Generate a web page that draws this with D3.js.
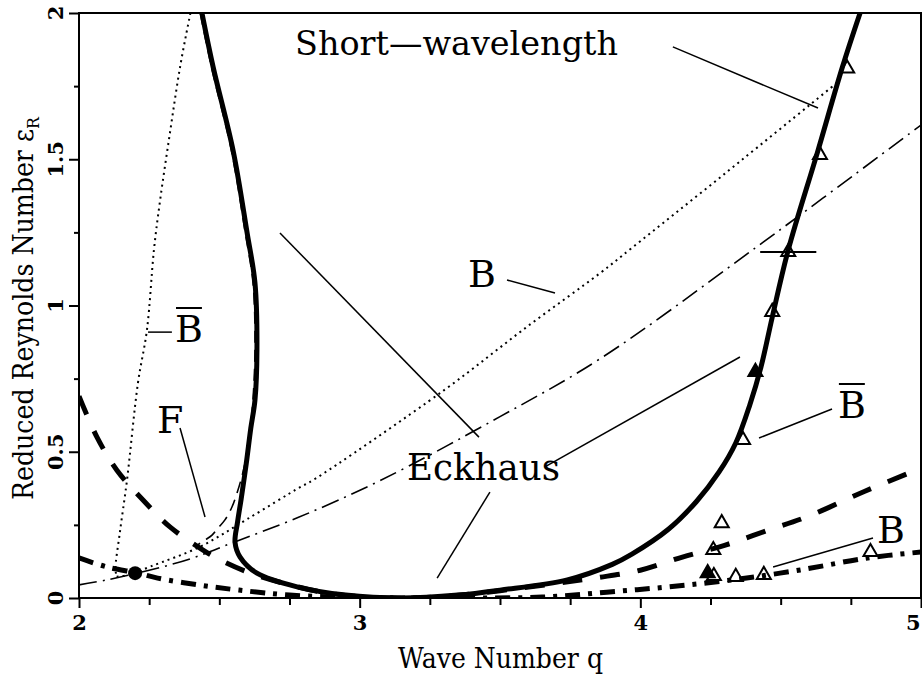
<!DOCTYPE html>
<html>
<head>
<meta charset="utf-8">
<script src="https://cdn.jsdelivr.net/npm/d3@7"></script>
<style>
  body { margin: 0; background: #fff; }
  svg { display: block; }
  text { font-family: "DejaVu Serif", "Liberation Serif", serif; fill: #000; }
</style>
</head>
<body>
<svg id="chart" width="922" height="677"></svg>
<script>
// ---- axis ticks ----
const xMajorTicks = [2, 3, 4, 5];
const xMinorTicks = [2.25, 2.5, 2.75, 3.25, 3.5, 3.75, 4.25, 4.5, 4.75];
const yMajorTicks = [0, 0.5, 1, 1.5, 2];
const yMinorTicks = [0.25, 0.75, 1.25, 1.75];
const xTickLabels = ["2", "3", "4", "5"];
const yTickLabels = ["0", "0.5", "1", "1.5", "2"];

// ---- curves: [wave number q, reduced Reynolds number eps_R] ----
// neutral stability curve (thick solid)
const neutralCurve = [
  [2.438, 2.0], [2.478, 1.815], [2.549, 1.53], [2.599, 1.248], [2.627, 1.077],
  [2.634, 0.848], [2.627, 0.677], [2.612, 0.58], [2.596, 0.46], [2.578, 0.34],
  [2.565, 0.26], [2.556, 0.19], [2.574, 0.14], [2.634, 0.085], [2.777, 0.038],
  [2.95, 0.01], [3.15, 0.0], [3.35, 0.01], [3.5, 0.027], [3.74, 0.062],
  [3.9, 0.115], [3.97, 0.15], [4.1, 0.235], [4.2, 0.33], [4.28, 0.43],
  [4.34, 0.53], [4.39, 0.66], [4.43, 0.79], [4.47, 0.96], [4.527, 1.19],
  [4.63, 1.52], [4.72, 1.815], [4.783, 2.0]
];
// thin dashed curve along the left branch (F)
const fCurve = [
  [2.432, 2.0], [2.472, 1.815], [2.543, 1.53], [2.592, 1.25], [2.62, 1.077],
  [2.627, 0.85], [2.62, 0.68], [2.609, 0.564], [2.599, 0.496], [2.58, 0.414],
  [2.563, 0.359], [2.545, 0.311], [2.52, 0.267], [2.495, 0.239], [2.474, 0.215],
  [2.449, 0.198], [2.42, 0.18]
];
// steep dotted curve (left B-bar)
const bBarDotted = [
  [2.397, 2.0], [2.36, 1.815], [2.324, 1.59], [2.289, 1.36], [2.267, 1.19],
  [2.242, 0.916], [2.21, 0.735], [2.171, 0.403], [2.145, 0.22], [2.13, 0.1],
  [2.134, 0.073]
];
// rising dotted curve (B)
const bDotted = [
  [2.134, 0.073], [2.18, 0.079], [2.253, 0.107], [2.431, 0.175], [2.6, 0.27],
  [2.788, 0.379], [2.834, 0.403], [3.3, 0.71], [3.6, 0.93], [3.857, 1.111],
  [3.97, 1.197], [4.3, 1.45], [4.704, 1.764]
];
// thin dash-dot curve
const thinDashDot = [
  [2.0, 0.045], [2.1, 0.062], [2.25, 0.095], [2.4, 0.135], [2.55, 0.19],
  [2.78, 0.275], [3.07, 0.40], [3.5, 0.62], [3.86, 0.82], [4.4, 1.19], [5.0, 1.617]
];
// thick dashed curve
const boldDashed = [
  [2.0, 0.69], [2.064, 0.55], [2.135, 0.437], [2.228, 0.335], [2.324, 0.243],
  [2.442, 0.164], [2.503, 0.13], [2.6, 0.089], [2.75, 0.045], [2.9, 0.015],
  [3.1, 0.0], [3.3, 0.005], [3.5, 0.025], [3.7, 0.05], [3.85, 0.07],
  [4.0, 0.095], [4.15, 0.14], [4.3, 0.18], [4.45, 0.23], [4.6, 0.28],
  [4.8, 0.365], [5.0, 0.444]
];
// thick dash-dot curve
const boldDashDot = [
  [2.0, 0.137], [2.1, 0.106], [2.21, 0.085], [2.28, 0.068], [2.43, 0.044],
  [2.57, 0.027], [2.75, 0.01], [3.0, 0.002], [3.2, 0.0], [3.4, 0.0],
  [3.65, 0.003], [3.88, 0.02], [4.1, 0.038], [4.33, 0.062], [4.57, 0.096],
  [4.81, 0.137], [5.0, 0.157]
];
// measured points (triangles)
const triQ = [4.366, 4.41, 4.47, 4.527, 4.64, 4.737, 4.29, 4.26, 4.24, 4.262, 4.34, 4.44, 4.82];
const triEps = [0.54, 0.773, 0.978, 1.183, 1.515, 1.81, 0.256, 0.164, 0.085, 0.075, 0.072, 0.079, 0.157];
const triFilled = [false, true, false, false, false, false, false, false, true, false, false, false, false];
// horizontal error bar on one measured point
const errQ = [4.527], errEps = [1.183], errHalfWidth = [0.1];
// codimension point (filled circle)
const dotQ = [2.2], dotEps = [0.085];

// ---- layout ----
const svg = d3.select("#chart");
const W = 922, H = 677;
const M = { left: 79, right: 1, top: 13, bottom: 79 };
const x = d3.scaleLinear().domain([2, 5]).range([M.left, W - M.right]);
const y = d3.scaleLinear().domain([0, 2]).range([H - M.bottom, M.top]);

svg.append("rect").attr("width", W).attr("height", H).attr("fill", "#fff");

svg.append("defs").append("clipPath").attr("id", "plotClip")
  .append("rect")
  .attr("x", x(2)).attr("y", y(2))
  .attr("width", x(5) - x(2)).attr("height", y(0) - y(2));

const plot = svg.append("g").attr("clip-path", "url(#plotClip)");
const line = d3.line()
  .x(d => x(d[0])).y(d => y(d[1]))
  .curve(d3.curveCatmullRom.alpha(0.5));

function curve(data, width, dash) {
  plot.append("path")
    .datum(data)
    .attr("d", line)
    .attr("fill", "none")
    .attr("stroke", "#000")
    .attr("stroke-width", width)
    .attr("stroke-linejoin", "round")
    .attr("stroke-dasharray", dash);
}

curve(thinDashDot, 1.6, "18,6,2,6");
curve(bBarDotted, 2, "2,4");
curve(bDotted, 2, "2,4");
curve(fCurve, 1.6, "12,7");
curve(boldDashed, 5, "20,18");
curve(boldDashDot, 5, "15,8,4,8");
curve(neutralCurve, 5, null);

// error bar
plot.selectAll(".err").data(errQ).enter().append("line")
  .attr("x1", (d, i) => x(d - errHalfWidth[i]))
  .attr("x2", (d, i) => x(d + errHalfWidth[i]))
  .attr("y1", (d, i) => y(errEps[i]))
  .attr("y2", (d, i) => y(errEps[i]))
  .attr("stroke", "#000").attr("stroke-width", 2);

// triangles
const tri = d3.symbol().type(d3.symbolTriangle).size(85);
plot.selectAll(".tri").data(triQ).enter().append("path")
  .attr("d", tri)
  .attr("transform", (d, i) => `translate(${x(d)},${y(triEps[i])})`)
  .attr("fill", (d, i) => triFilled[i] ? "#000" : "none")
  .attr("stroke", "#000").attr("stroke-width", 2);

// filled circle
plot.selectAll(".dot").data(dotQ).enter().append("circle")
  .attr("cx", d => x(d)).attr("cy", (d, i) => y(dotEps[i]))
  .attr("r", 7).attr("fill", "#000");

// ---- annotations: pointer lines (in data units) ----
const pointers = [
  [[4.116, 1.884], [4.633, 1.675]],   // Short-wavelength
  [[2.716, 1.248], [3.425, 0.550]],
  [[3.525, 1.087], [3.696, 1.043]],   // B (middle)
  [[3.660, 0.448], [4.355, 0.824]],   // Eckhaus
  [[3.276, 0.068], [3.464, 0.362]],   // Eckhaus
  [[2.246, 0.909], [2.331, 0.909]],   // B-bar (left)
  [[2.360, 0.581], [2.449, 0.277]],   // F
  [[4.423, 0.547], [4.683, 0.646]],   // B-bar (right)
  [[4.473, 0.106], [4.829, 0.205]]    // B (right)
];
svg.append("g").selectAll("line").data(pointers).enter().append("line")
  .attr("x1", d => x(d[0][0])).attr("y1", d => y(d[0][1]))
  .attr("x2", d => x(d[1][0])).attr("y2", d => y(d[1][1]))
  .attr("stroke", "#000").attr("stroke-width", 1.5);

function label(txt, q, e, size, len, overline) {
  const t = svg.append("text")
    .attr("x", x(q)).attr("y", y(e))
    .attr("font-size", size)
    .text(txt);
  if (len) t.attr("textLength", len).attr("lengthAdjust", "spacingAndGlyphs");
  if (overline) {
    const bb = t.node().getBBox();
    svg.append("line")
      .attr("x1", bb.x + 1).attr("x2", bb.x + bb.width - 1)
      .attr("y1", y(e) - 34).attr("y2", y(e) - 34)
      .attr("stroke", "#000").attr("stroke-width", 2);
  }
}
label("Short\u2014wavelength", 2.7696, 1.8564, 34, 323, false);
label("Eckhaus", 3.1686, 0.4034, 38, 153, false);
label("B", 3.386, 1.0632, 38, null, false);
label("B", 2.342, 0.8752, 38, null, true);
label("F", 2.2779, 0.5641, 38, null, false);
label("B", 4.7039, 0.6154, 38, null, true);
label("B", 4.843, 0.188, 38, null, false);

// ---- axes ----
const axes = svg.append("g");
// bottom minor + major ticks
axes.append("g").attr("transform", `translate(0,${y(0)})`)
  .call(d3.axisBottom(x).tickValues(xMinorTicks).tickSize(7).tickFormat(""))
  .call(g => g.select(".domain").remove());
axes.append("g").attr("transform", `translate(0,${y(0)})`)
  .call(d3.axisBottom(x).tickValues(xMajorTicks).tickSize(10).tickPadding(7)
    .tickFormat((d, i) => xTickLabels[i]))
  .call(g => g.select(".domain").remove())
  .call(g => g.selectAll("text")
    .attr("font-family", "DejaVu Serif").attr("font-weight", "bold").attr("font-size", 21)
    // the last label sits at the right edge of the page: keep it inside
    .filter((d, i, n) => i === n.length - 1)
    .attr("text-anchor", "end").attr("dx", -1));
// left minor + major ticks
axes.append("g").attr("transform", `translate(${x(2)},0)`)
  .call(d3.axisLeft(y).tickValues(yMinorTicks).tickSize(5).tickFormat(""))
  .call(g => g.select(".domain").remove());
axes.append("g").attr("transform", `translate(${x(2)},0)`)
  .call(d3.axisLeft(y).tickValues(yMajorTicks).tickSize(10).tickFormat(""))
  .call(g => g.select(".domain").remove());
axes.selectAll(".tick line").attr("stroke", "#000").attr("stroke-width", 2);
// rotated y tick labels
axes.selectAll(".ylab").data(yMajorTicks).enter().append("text")
  .attr("transform", d => `translate(63,${y(d)}) rotate(-90)`)
  .attr("text-anchor", "middle")
  .attr("font-weight", "bold").attr("font-size", 21)
  .text((d, i) => yTickLabels[i]);

// frame
svg.append("rect")
  .attr("x", x(2)).attr("y", y(2))
  .attr("width", x(5) - x(2)).attr("height", y(0) - y(2))
  .attr("fill", "none").attr("stroke", "#000").attr("stroke-width", 2);

// axis titles
svg.append("text")
  .attr("x", 398).attr("y", 668)
  .attr("font-size", 28)
  .attr("textLength", 205).attr("lengthAdjust", "spacingAndGlyphs")
  .text("Wave Number q");

const yt = svg.append("text")
  .attr("transform", "translate(33,500) rotate(-90)")
  .attr("font-size", 27)
  .attr("textLength", 383).attr("lengthAdjust", "spacingAndGlyphs");
yt.append("tspan").text("Reduced Reynolds Number \u03B5");
yt.append("tspan").attr("font-size", 17).attr("dy", 6).text("R");
</script>
</body>
</html>
